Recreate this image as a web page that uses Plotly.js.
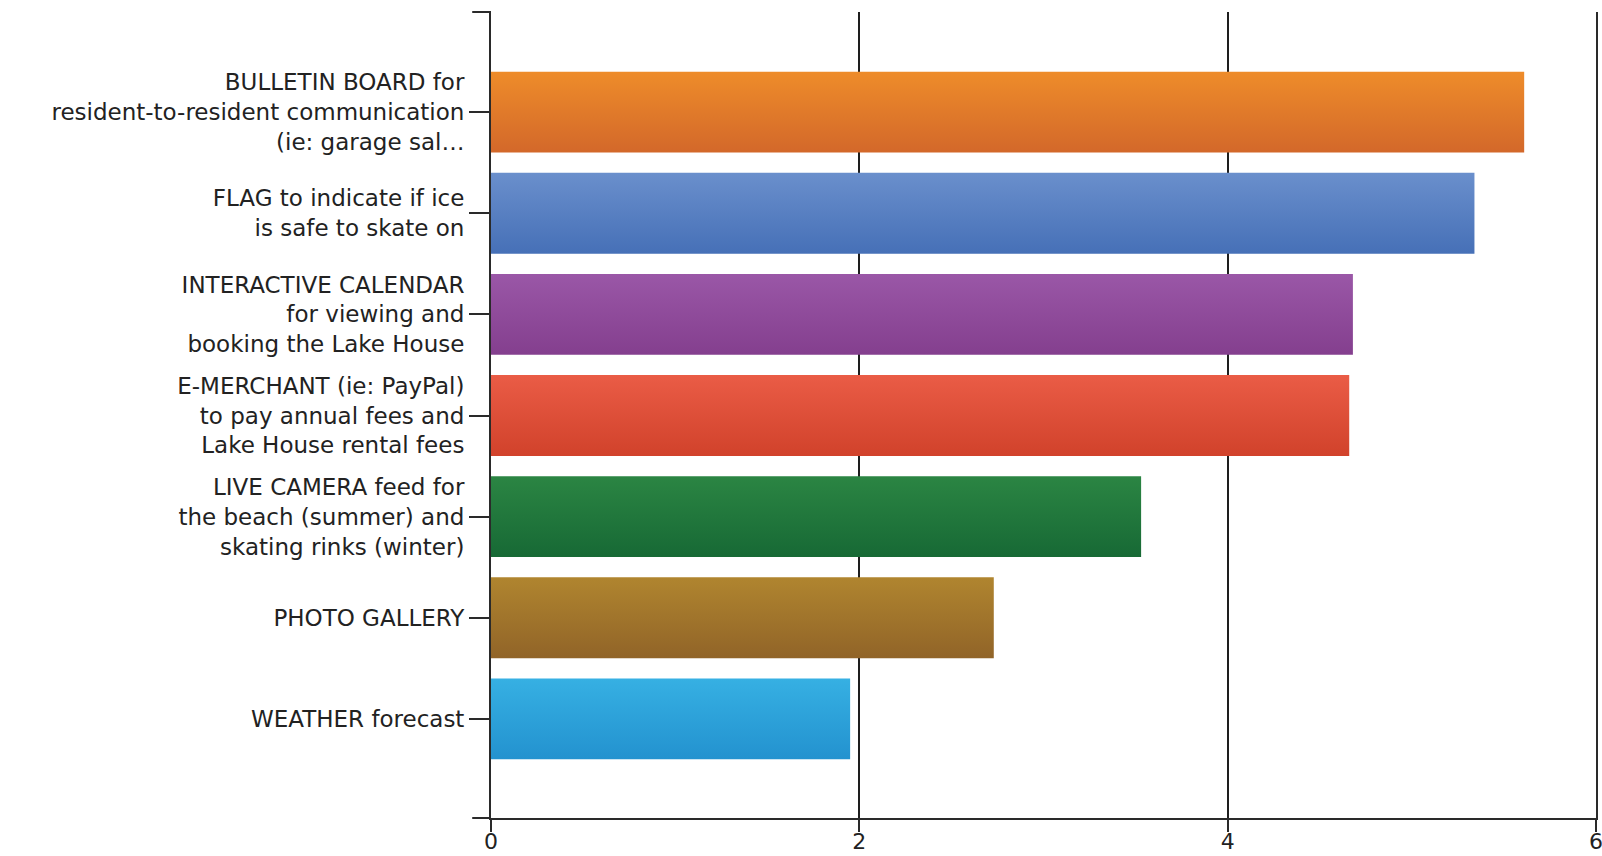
<!DOCTYPE html>
<html>
<head>
<meta charset="utf-8">
<script src="https://cdn.plot.ly/plotly-3.0.1.min.js"></script>
<style>
html, body { margin: 0; padding: 0; background: #ffffff; }
#chart { width: 1602px; height: 856px; }
</style>
</head>
<body>
<div id="chart"></div>
<script>
// ---- data ----
const categories = [
  "BULLETIN BOARD",
  "FLAG",
  "INTERACTIVE CALENDAR",
  "E-MERCHANT",
  "LIVE CAMERA",
  "PHOTO GALLERY",
  "WEATHER forecast"
];
const tickLabels = [
  "BULLETIN BOARD for<br>resident-to-resident communication<br>(ie: garage sal…",
  "FLAG to indicate if ice<br>is safe to skate on",
  "INTERACTIVE CALENDAR<br>for viewing and<br>booking the Lake House",
  "E-MERCHANT (ie: PayPal)<br>to pay annual fees and<br>Lake House rental fees",
  "LIVE CAMERA feed for<br>the beach (summer) and<br>skating rinks (winter)",
  "PHOTO GALLERY",
  "WEATHER forecast"
];
const values = [5.61, 5.34, 4.68, 4.66, 3.53, 2.73, 1.95];
const xTickVals = [0, 2, 4, 6];

// ---- styles ----
const barColors   = ["#e07a28", "#5880c2", "#8f4b9b", "#de4f38", "#21773c", "#a2752b", "#2da1d9"];
const gradTop     = ["#ee8c2a", "#6a8fcc", "#9a57a7", "#ea5c46", "#2b8543", "#b0852f", "#36b0e3"];
const gradBottom  = ["#d3682a", "#4670b7", "#843f8e", "#d1422b", "#176935", "#916428", "#2392cf"];

const trace = {
  type: "bar",
  orientation: "h",
  x: values,
  y: categories,
  marker: { color: barColors, line: { width: 0 } },
  hoverinfo: "none"
};

const axisColor = "#2a2a2a";
const layout = {
  width: 1602,
  height: 856,
  margin: { l: 491, r: 6, t: 12, b: 38, pad: 0 },
  paper_bgcolor: "#ffffff",
  plot_bgcolor: "#ffffff",
  showlegend: false,
  bargap: 0.2,
  font: { family: "DejaVu Sans", size: 23, color: "#222222" },
  xaxis: {
    range: [0, 6],
    tickmode: "array",
    tickvals: xTickVals,
    ticktext: xTickVals.map(String),
    ticks: "outside",
    ticklen: 12,
    tickwidth: 2,
    tickcolor: axisColor,
    ticklabelstandoff: -9,
    ticklabeloverflow: "allow",
    showline: true,
    linecolor: axisColor,
    linewidth: 2,
    showgrid: true,
    gridcolor: "#1e1e1e",
    gridwidth: 2,
    zeroline: false,
    tickfont: { family: "DejaVu Sans", size: 22, color: "#222222" },
    fixedrange: true
  },
  yaxis: {
    type: "category",
    categoryorder: "array",
    categoryarray: categories,
    range: [6.98, -0.99],
    tickmode: "array",
    tickvals: categories,
    ticktext: tickLabels,
    ticks: "outside",
    ticklen: 20,
    tickwidth: 2,
    tickcolor: axisColor,
    showline: true,
    mirror: true,
    linecolor: axisColor,
    linewidth: 2,
    showgrid: false,
    zeroline: false,
    tickfont: { family: "DejaVu Sans", size: 23, color: "#222222" },
    fixedrange: true
  },
  shapes: [
    { type: "line", xref: "paper", yref: "paper", x0: -0.017, x1: 0, y0: 1, y1: 1,
      line: { color: axisColor, width: 2 } },
    { type: "line", xref: "paper", yref: "paper", x0: -0.017, x1: 0, y0: 0, y1: 0,
      line: { color: axisColor, width: 2 } }
  ]
};

Plotly.newPlot("chart", [trace], layout, { staticPlot: true, displayModeBar: false }).then(function (gd) {
  const ns = "http://www.w3.org/2000/svg";
  const svg = gd.querySelector("svg.main-svg");
  let defs = svg.querySelector("defs");
  if (!defs) { defs = document.createElementNS(ns, "defs"); svg.insertBefore(defs, svg.firstChild); }
  const paths = gd.querySelectorAll(".barlayer .point path");
  paths.forEach(function (p, i) {
    const g = document.createElementNS(ns, "linearGradient");
    g.setAttribute("id", "barGrad" + i);
    g.setAttribute("x1", "0"); g.setAttribute("y1", "0");
    g.setAttribute("x2", "0"); g.setAttribute("y2", "1");
    const s1 = document.createElementNS(ns, "stop");
    s1.setAttribute("offset", "0"); s1.setAttribute("stop-color", gradTop[i]);
    const s2 = document.createElementNS(ns, "stop");
    s2.setAttribute("offset", "1"); s2.setAttribute("stop-color", gradBottom[i]);
    g.appendChild(s1); g.appendChild(s2);
    defs.appendChild(g);
    p.style.fill = "url(#barGrad" + i + ")";
  });
});
</script>
</body>
</html>
